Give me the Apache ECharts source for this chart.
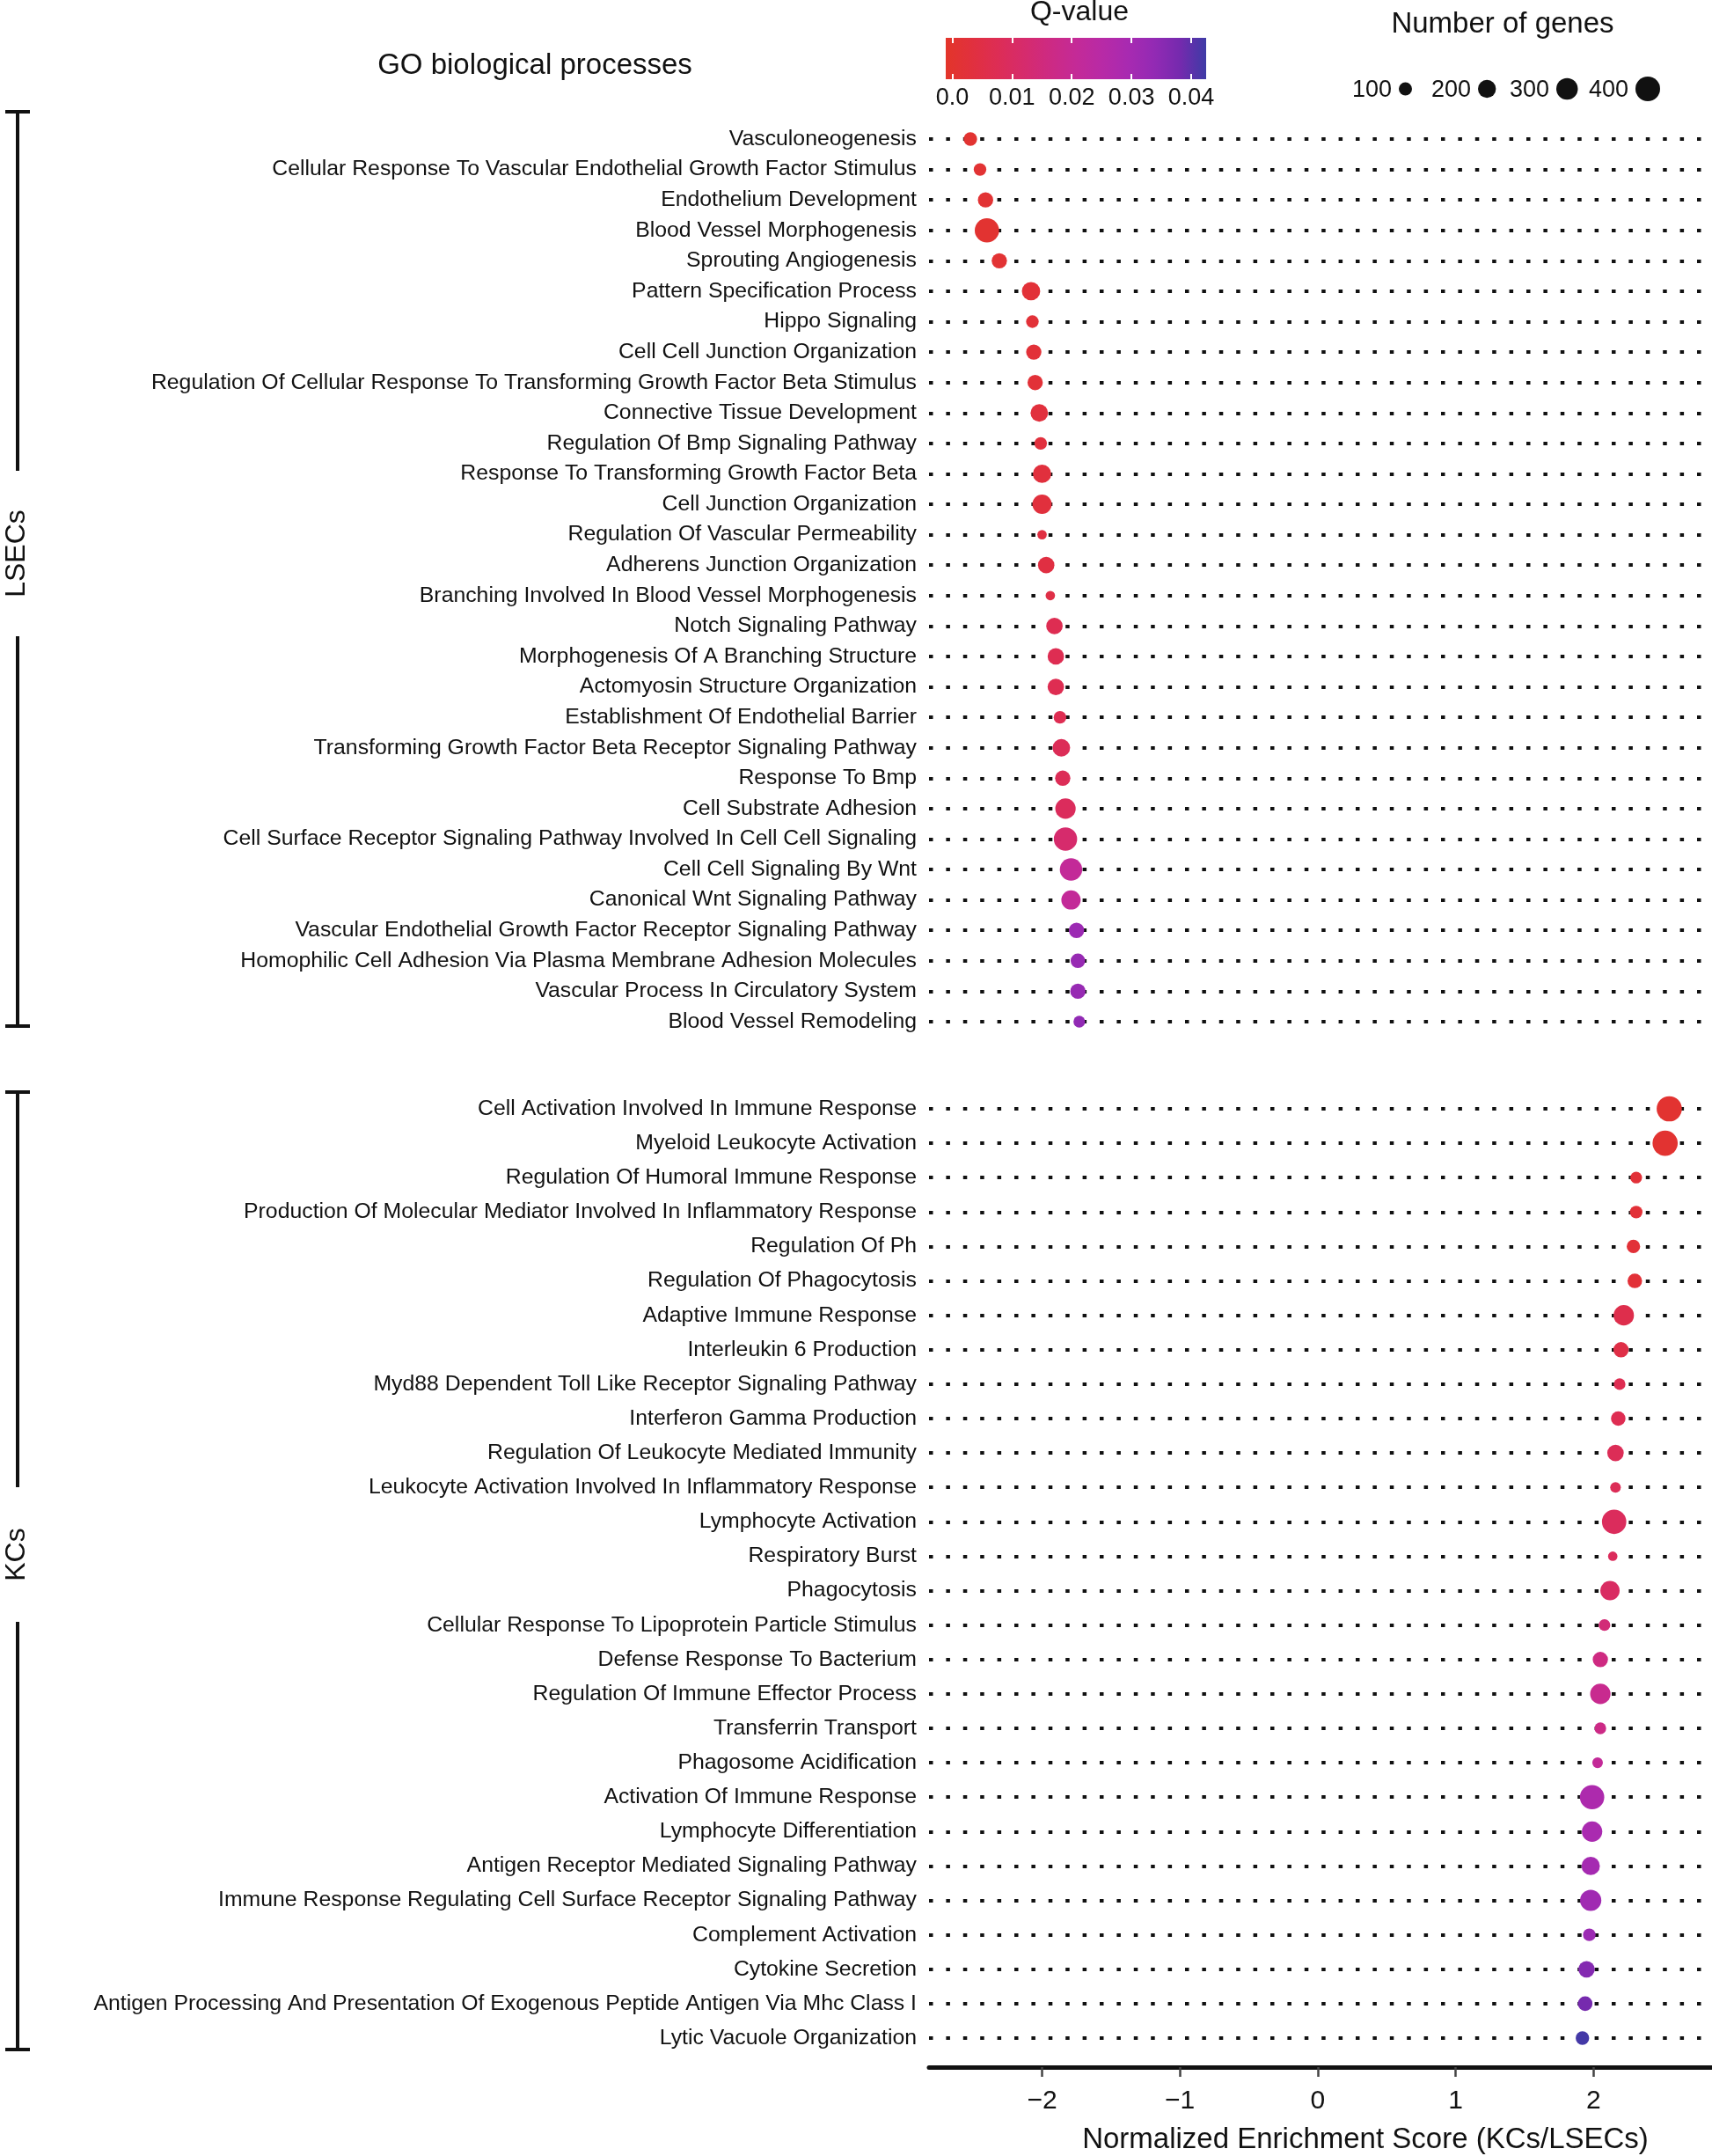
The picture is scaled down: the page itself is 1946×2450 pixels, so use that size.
<!DOCTYPE html>
<html>
<head>
<meta charset="utf-8">
<title>GO biological processes</title>
<script src="https://cdn.jsdelivr.net/npm/echarts@6/dist/echarts.min.js"></script>
<style>
  html, body { margin: 0; padding: 0; background: #fff; }
  #chart { width: 1946px; height: 2450px; }
</style>
</head>
<body>
<div id="chart"></div>
<script>
// LSEC-enriched terms (top block)
const lsecTerms = [
  'Vasculoneogenesis',
  'Cellular Response To Vascular Endothelial Growth Factor Stimulus',
  'Endothelium Development',
  'Blood Vessel Morphogenesis',
  'Sprouting Angiogenesis',
  'Pattern Specification Process',
  'Hippo Signaling',
  'Cell Cell Junction Organization',
  'Regulation Of Cellular Response To Transforming Growth Factor Beta Stimulus',
  'Connective Tissue Development',
  'Regulation Of Bmp Signaling Pathway',
  'Response To Transforming Growth Factor Beta',
  'Cell Junction Organization',
  'Regulation Of Vascular Permeability',
  'Adherens Junction Organization',
  'Branching Involved In Blood Vessel Morphogenesis',
  'Notch Signaling Pathway',
  'Morphogenesis Of A Branching Structure',
  'Actomyosin Structure Organization',
  'Establishment Of Endothelial Barrier',
  'Transforming Growth Factor Beta Receptor Signaling Pathway',
  'Response To Bmp',
  'Cell Substrate Adhesion',
  'Cell Surface Receptor Signaling Pathway Involved In Cell Cell Signaling',
  'Cell Cell Signaling By Wnt',
  'Canonical Wnt Signaling Pathway',
  'Vascular Endothelial Growth Factor Receptor Signaling Pathway',
  'Homophilic Cell Adhesion Via Plasma Membrane Adhesion Molecules',
  'Vascular Process In Circulatory System',
  'Blood Vessel Remodeling'
];
const lsecNES = [-2.52, -2.45, -2.41, -2.40, -2.31, -2.08, -2.07, -2.06, -2.05, -2.02,
  -2.01, -2.00, -2.00, -2.00, -1.97, -1.94, -1.91, -1.90, -1.90, -1.87,
  -1.86, -1.85, -1.83, -1.83, -1.79, -1.79, -1.75, -1.74, -1.74, -1.73];
const lsecQ = [0.0005, 0.001, 0.001, 0.0005, 0.001, 0.002, 0.002, 0.002, 0.002, 0.003,
  0.003, 0.003, 0.003, 0.004, 0.004, 0.005, 0.007, 0.007, 0.007, 0.007,
  0.008, 0.008, 0.009, 0.012, 0.021, 0.021, 0.032, 0.033, 0.033, 0.034];
const lsecGenes = [105, 90, 140, 390, 140, 210, 90, 140, 140, 190,
  90, 210, 235, 45, 165, 45, 165, 165, 165, 90,
  190, 140, 265, 355, 325, 235, 140, 125, 140, 75];

// KC-enriched terms (bottom block)
const kcTerms = [
  'Cell Activation Involved In Immune Response',
  'Myeloid Leukocyte Activation',
  'Regulation Of Humoral Immune Response',
  'Production Of Molecular Mediator Involved In Inflammatory Response',
  'Regulation Of Ph',
  'Regulation Of Phagocytosis',
  'Adaptive Immune Response',
  'Interleukin 6 Production',
  'Myd88 Dependent Toll Like Receptor Signaling Pathway',
  'Interferon Gamma Production',
  'Regulation Of Leukocyte Mediated Immunity',
  'Leukocyte Activation Involved In Inflammatory Response',
  'Lymphocyte Activation',
  'Respiratory Burst',
  'Phagocytosis',
  'Cellular Response To Lipoprotein Particle Stimulus',
  'Defense Response To Bacterium',
  'Regulation Of Immune Effector Process',
  'Transferrin Transport',
  'Phagosome Acidification',
  'Activation Of Immune Response',
  'Lymphocyte Differentiation',
  'Antigen Receptor Mediated Signaling Pathway',
  'Immune Response Regulating Cell Surface Receptor Signaling Pathway',
  'Complement Activation',
  'Cytokine Secretion',
  'Antigen Processing And Presentation Of Exogenous Peptide Antigen Via Mhc Class I',
  'Lytic Vacuole Organization'
];
const kcNES = [2.55, 2.52, 2.31, 2.31, 2.29, 2.30, 2.22, 2.20, 2.19, 2.18,
  2.16, 2.16, 2.15, 2.14, 2.12, 2.08, 2.05, 2.05, 2.05, 2.03,
  1.99, 1.99, 1.98, 1.98, 1.97, 1.95, 1.94, 1.92];
const kcQ = [0.0005, 0.0005, 0.002, 0.002, 0.002, 0.002, 0.006, 0.005, 0.007, 0.007,
  0.008, 0.008, 0.009, 0.009, 0.010, 0.014, 0.016, 0.019, 0.017, 0.021,
  0.028, 0.029, 0.030, 0.031, 0.032, 0.036, 0.038, 0.042];
const kcGenes = [420, 420, 75, 90, 105, 125, 265, 140, 75, 125,
  165, 60, 390, 45, 235, 75, 140, 265, 75, 60,
  390, 265, 210, 290, 90, 165, 125, 105];

// axis / legend ticks
const xTicks = [-2, -1, 0, 1, 2];
const qTicks = [0, 0.01, 0.02, 0.03, 0.04];
const sizeTicks = [100, 200, 300, 400];

// colour scale for Q-value (evenly spread over qMin..qMax)
const qColors = ['#E3352A', '#E1303E', '#DD2D55', '#D62B6C', '#CD2A83', '#C42A97',
  '#B82AA6', '#A82AB1', '#932AB4', '#752AAE', '#3E3BA6'];
const qMin = -0.0011, qMax = 0.0425;

const FONT = '"Liberation Sans", Arial, Helvetica, sans-serif';
const INK = '#111';

// dot diameter, linear in sqrt(genes) like ggplot's area scale
function sizeOf(n) { return 2 + 1.3 * Math.sqrt(n); }

const chart = echarts.init(document.getElementById('chart'));

let gradStops = qColors.map((c, i) => ({ offset: i / (qColors.length - 1), color: c }));

let lsecData = lsecTerms.map((t, i) => [lsecNES[i], t, lsecQ[i], lsecGenes[i]]);
let kcData = kcTerms.map((t, i) => [kcNES[i], t, kcQ[i], kcGenes[i]]);

let termAxis = (gi, data) => ({
  type: 'category', gridIndex: gi, data: data, inverse: true, boundaryGap: false,
  axisLine: { show: false }, axisTick: { show: false },
  axisLabel: { fontFamily: FONT, fontSize: 24.8, color: INK, margin: 14 },
  splitLine: { show: true, lineStyle: { color: INK, width: 4, type: [4.5, 14.9] } }
});

// number-of-genes legend
let legendGraphics = [];
let legendLeft = [1537, 1627, 1716, 1806];
sizeTicks.forEach((n, i) => {
  legendGraphics.push({
    type: 'text', x: legendLeft[i], y: 103,
    style: { text: String(n), font: '27px ' + FONT, fill: INK, textVerticalAlign: 'middle' }
  });
  let r = sizeOf(n) / 2;
  legendGraphics.push({
    type: 'circle', shape: { cx: legendLeft[i] + 53 + r, cy: 101, r: r },
    style: { fill: INK }
  });
});

// group brackets
let bracket = (y1, y2, g1, g2, label) => {
  let ls = { stroke: INK, lineWidth: 4 };
  return [
    { type: 'line', shape: { x1: 6, y1: y1, x2: 34, y2: y1 }, style: ls },
    { type: 'line', shape: { x1: 20, y1: y1, x2: 20, y2: g1 }, style: ls },
    { type: 'line', shape: { x1: 20, y1: g2, x2: 20, y2: y2 }, style: ls },
    { type: 'line', shape: { x1: 6, y1: y2, x2: 34, y2: y2 }, style: ls },
    {
      type: 'text', x: 19, y: (g1 + g2) / 2, rotation: Math.PI / 2,
      style: { text: label, font: '32px ' + FONT, fill: INK, textAlign: 'center', textVerticalAlign: 'middle' }
    }
  ];
};

let qTickStyle = { show: true, inside: true, length: 6, customValues: qTicks, lineStyle: { color: '#fff', width: 2 } };

let option = {
  backgroundColor: '#fff',
  animation: false,
  textStyle: { fontFamily: FONT },
  grid: [
    { left: 1056, right: 0, top: 158, bottom: 2450 - 1161 },
    { left: 1056, right: 0, top: 1260, bottom: 2450 - 2316 },
    { left: 1075, width: 296, top: 43, height: 47, show: true, borderWidth: 0,
      backgroundColor: new echarts.graphic.LinearGradient(0, 0, 1, 0, gradStops) }
  ],
  xAxis: [
    { type: 'value', gridIndex: 0, min: -2.82, max: 2.86, show: false },
    {
      type: 'value', gridIndex: 1, min: -2.82, max: 2.86, position: 'bottom', offset: 33,
      splitLine: { show: false },
      axisLine: { show: true, onZero: false, lineStyle: { color: INK, width: 5 } },
      axisTick: { show: true, customValues: xTicks, length: 11, lineStyle: { color: '#444', width: 2.5 } },
      axisLabel: {
        customValues: xTicks, fontFamily: FONT, fontSize: 30, color: INK, margin: 24,
        formatter: v => String(v).replace('-', '\u2212')
      }
    },
    {
      type: 'value', gridIndex: 2, min: qMin, max: qMax, position: 'bottom',
      splitLine: { show: false }, axisLine: { show: false },
      axisTick: qTickStyle,
      axisLabel: {
        customValues: qTicks, fontFamily: FONT, fontSize: 27, color: INK, margin: 8,
        formatter: v => v === 0 ? '0.0' : v.toFixed(2)
      }
    },
    {
      type: 'value', gridIndex: 2, min: qMin, max: qMax, position: 'top',
      splitLine: { show: false }, axisLine: { show: false }, axisLabel: { show: false },
      axisTick: qTickStyle
    }
  ],
  yAxis: [
    termAxis(0, lsecTerms),
    termAxis(1, kcTerms),
    { type: 'value', gridIndex: 2, min: 0, max: 1, show: false }
  ],
  visualMap: {
    type: 'continuous', show: false, dimension: 2, seriesIndex: [0, 1],
    min: qMin, max: qMax, inRange: { color: qColors }
  },
  series: [
    {
      type: 'scatter', xAxisIndex: 0, yAxisIndex: 0, data: lsecData,
      symbolSize: v => sizeOf(v[3]), itemStyle: { opacity: 1 }
    },
    {
      type: 'scatter', xAxisIndex: 1, yAxisIndex: 1, data: kcData,
      symbolSize: v => sizeOf(v[3]), itemStyle: { opacity: 1 }
    },
    { type: 'scatter', xAxisIndex: 2, yAxisIndex: 2, data: [] }
  ],
  graphic: [
    { type: 'text', x: 608, y: 75,
      style: { text: 'GO biological processes', font: '33px ' + FONT, fill: INK, textAlign: 'center', textVerticalAlign: 'middle' } },
    { type: 'text', x: 1227, y: 14,
      style: { text: 'Q-value', font: '32px ' + FONT, fill: INK, textAlign: 'center', textVerticalAlign: 'middle' } },
    { type: 'text', x: 1708, y: 28,
      style: { text: 'Number of genes', font: '33px ' + FONT, fill: INK, textAlign: 'center', textVerticalAlign: 'middle' } },
    { type: 'text', x: 1552, y: 2432,
      style: { text: 'Normalized Enrichment Score (KCs/LSECs)', font: '33px ' + FONT, fill: INK, textAlign: 'center', textVerticalAlign: 'middle' } }
  ].concat(legendGraphics, bracket(127, 1166, 535, 723, 'LSECs'), bracket(1241, 2329, 1690, 1843, 'KCs'))
};

chart.setOption(option);
</script>
</body>
</html>
